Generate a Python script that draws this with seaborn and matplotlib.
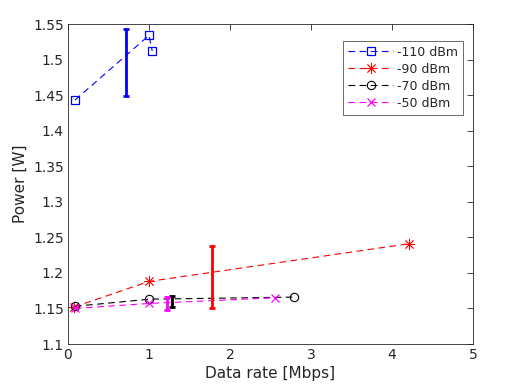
import matplotlib
matplotlib.use("Agg")
import matplotlib.pyplot as plt
import seaborn as sns
import pandas as pd

sns.set_theme(style="white")
plt.rcParams['font.family'] = ['DejaVu Sans']

labels = ["-110 dBm", "-90 dBm", "-70 dBm", "-50 dBm"]
colors = ["#0000ff", "#ff0000", "#000000", "#ff00ff"]
markers = ["s", (8, 2, 0), "o", "x"]
msizes = [6, 8, 6, 6]
mews = [0.9, 0.6, 0.8, 0.9]

rate_110 = [0.086, 1.00, 1.04]
power_110 = [1.443, 1.534, 1.512]
rate_90 = [0.074, 1.00, 4.21]
power_90 = [1.152, 1.188, 1.241]
rate_70 = [0.086, 1.00, 2.79]
power_70 = [1.153, 1.163, 1.166]
rate_50 = [0.086, 1.00, 2.556]
power_50 = [1.150, 1.157, 1.165]

# error bars: x position, low, high
err_x = [0.716, 1.774, 1.29, 1.218]
err_lo = [1.449, 1.150, 1.1516, 1.148]
err_hi = [1.543, 1.238, 1.1675, 1.1665]

rates = [rate_110, rate_90, rate_70, rate_50]
powers = [power_110, power_90, power_70, power_50]

fig = plt.figure(figsize=(5.23, 3.87), dpi=100)
ax = fig.add_axes([68/523, 1-344/387, (473-68)/523, (344-24)/387])

for lab, c, m, ms, mew, r, p in zip(labels, colors, markers, msizes, mews, rates, powers):
    df = pd.DataFrame({"rate": r, "power": p})
    sns.lineplot(data=df, x="rate", y="power", ax=ax, color=c, marker=m,
                 markersize=ms, markerfacecolor="none", markeredgecolor=c,
                 markeredgewidth=mew, linewidth=0.8, linestyle=(0, (6, 4)),
                 label=lab, sort=False)

for x, lo, hi, c in zip(err_x, err_lo, err_hi, colors):
    mid = (lo + hi) / 2
    ax.errorbar([x], [mid], yerr=[[mid - lo], [hi - mid]], fmt="none",
                ecolor=c, elinewidth=2, capsize=2, capthick=2)

ax.set_xlim(0, 5)
ax.set_ylim(1.1, 1.55)
ax.set_xticks([0, 1, 2, 3, 4, 5])
ax.set_yticks([1.1, 1.15, 1.2, 1.25, 1.3, 1.35, 1.4, 1.45, 1.5, 1.55])
ax.set_yticklabels(["1.1", "1.15", "1.2", "1.25", "1.3", "1.35", "1.4", "1.45", "1.5", "1.55"])
ax.set_xlabel("Data rate [Mbps]", fontsize=11, labelpad=3)
ax.set_ylabel("Power [W]", fontsize=11, labelpad=4)
ax.tick_params(direction="in", length=4, width=0.6, labelsize=10,
               top=True, right=True, colors="#262626", pad=3)
for s in ax.spines.values():
    s.set_linewidth(0.6)
    s.set_color("#262626")

leg = ax.legend(loc="upper right", bbox_to_anchor=(0.985, 0.96), fontsize=9,
                frameon=True, fancybox=False, edgecolor="#262626",
                handlelength=3.6, handletextpad=0.3, borderpad=0.4,
                labelspacing=0.32, borderaxespad=0.3)
leg.get_frame().set_linewidth(0.6)

fig.savefig("out.png", dpi=100)
